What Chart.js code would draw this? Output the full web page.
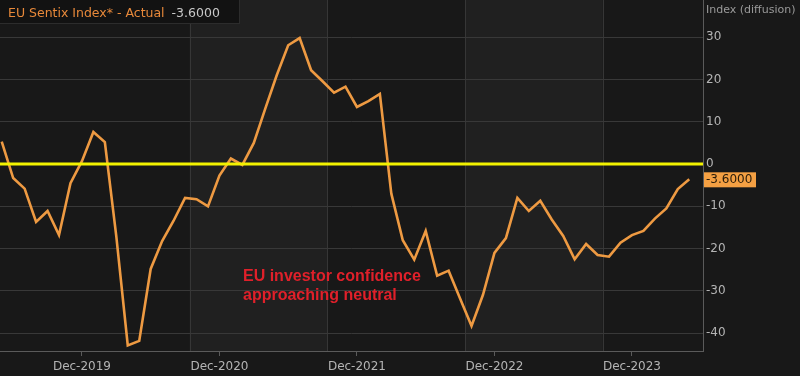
<!DOCTYPE html>
<html>
<head>
<meta charset="utf-8">
<script src="https://cdn.jsdelivr.net/npm/chart.js@4"></script>
<style>
  html, body { margin: 0; padding: 0; background: #181818; }
  #wrap { width: 800px; height: 376px; position: relative; }
</style>
</head>
<body>
<div id="wrap"><canvas id="chart"></canvas></div>
<script>
// monthly EU Sentix readings, May-2019 .. May-2024
const months = ['May-2019','Jun-2019','Jul-2019','Aug-2019','Sep-2019','Oct-2019','Nov-2019','Dec-2019',
  'Jan-2020','Feb-2020','Mar-2020','Apr-2020','May-2020','Jun-2020','Jul-2020','Aug-2020','Sep-2020','Oct-2020','Nov-2020','Dec-2020',
  'Jan-2021','Feb-2021','Mar-2021','Apr-2021','May-2021','Jun-2021','Jul-2021','Aug-2021','Sep-2021','Oct-2021','Nov-2021','Dec-2021',
  'Jan-2022','Feb-2022','Mar-2022','Apr-2022','May-2022','Jun-2022','Jul-2022','Aug-2022','Sep-2022','Oct-2022','Nov-2022','Dec-2022',
  'Jan-2023','Feb-2023','Mar-2023','Apr-2023','May-2023','Jun-2023','Jul-2023','Aug-2023','Sep-2023','Oct-2023','Nov-2023','Dec-2023',
  'Jan-2024','Feb-2024','Mar-2024','Apr-2024','May-2024']
const sentix = [5.3, -3.3, -5.8, -13.7, -11.1, -16.8, -4.5, 0.7,
  7.6, 5.2, -17.1, -42.9, -41.8, -24.8, -18.2, -13.4, -8.0, -8.3, -10.0, -2.7,
  1.3, -0.2, 5.0, 13.1, 21.0, 28.1, 29.8, 22.2, 19.6, 16.9, 18.3, 13.5,
  14.9, 16.6, -7.0, -18.0, -22.6, -15.8, -26.4, -25.2, -31.8, -38.3, -30.9, -21.0,
  -17.5, -8.0, -11.1, -8.7, -13.1, -17.0, -22.5, -18.9, -21.5, -21.9, -18.6, -16.8,
  -15.8, -12.9, -10.5, -5.9, -3.6]
const tickLabels = ['Dec-2019', 'Dec-2020', 'Dec-2021', 'Dec-2022', 'Dec-2023']
const yTicks = [-40, -30, -20, -10, 0, 10, 20, 30]
// shaded year bands (month index, start/end)
const bandEdges = [16.4, 28.4, 40.45, 52.45]

const lastValue = sentix[sentix.length - 1]
const FONT = '"DejaVu Sans", sans-serif'

const points = sentix.map((v, i) => ({ x: i, y: v }))
const tickIdx = tickLabels.map(l => months.indexOf(l))

const decor = {
  id: 'decor',
  beforeDraw(chart) {
    const { ctx, chartArea: a, scales } = chart
    ctx.save()
    ctx.fillStyle = '#181818'
    ctx.fillRect(0, 0, chart.width, chart.height)
    ctx.fillStyle = '#202020'
    for (let i = 0; i + 1 < bandEdges.length; i += 2) {
      const x0 = scales.x.getPixelForValue(bandEdges[i])
      const x1 = scales.x.getPixelForValue(bandEdges[i + 1])
      ctx.fillRect(x0, a.top, x1 - x0, a.bottom - a.top)
    }
    ctx.strokeStyle = '#363636'
    ctx.lineWidth = 1
    bandEdges.forEach(b => {
      const x = Math.round(scales.x.getPixelForValue(b)) + 0.5
      ctx.beginPath()
      ctx.moveTo(x, a.top)
      ctx.lineTo(x, a.bottom)
      ctx.stroke()
    })
    ctx.restore()
  },
  afterDatasetsDraw(chart) {
    const { ctx, chartArea: a, scales } = chart
    const y0 = scales.y.getPixelForValue(0)
    ctx.save()
    ctx.strokeStyle = '#f2f200'
    ctx.lineWidth = 3
    ctx.beginPath()
    ctx.moveTo(a.left, y0)
    ctx.lineTo(a.right, y0)
    ctx.stroke()
    ctx.restore()
  },
  afterDraw(chart) {
    const { ctx, chartArea: a, scales } = chart
    ctx.save()
    // value badge on the axis
    const yv = scales.y.getPixelForValue(lastValue)
    ctx.fillStyle = '#f4a043'
    ctx.fillRect(a.right + 1, yv - 7, 52, 15)
    ctx.fillStyle = '#2a1c0a'
    ctx.font = '12px ' + FONT
    ctx.textBaseline = 'middle'
    ctx.textAlign = 'left'
    ctx.fillText(lastValue.toFixed(4), a.right + 3, yv + 0.5)

    // axis title
    ctx.fillStyle = '#9a9a9a'
    ctx.font = '11px ' + FONT
    ctx.textBaseline = 'alphabetic'
    ctx.fillText('Index (diffusion)', a.right + 3, 13)

    // legend box
    ctx.fillStyle = '#121212'
    ctx.fillRect(0, 0, 240, 24)
    ctx.strokeStyle = '#2c2c2c'
    ctx.strokeRect(-0.5, -0.5, 240, 24)
    ctx.font = '12.5px ' + FONT
    ctx.fillStyle = '#e8893a'
    const lbl = 'EU Sentix Index* - Actual'
    ctx.fillText(lbl, 8, 17)
    ctx.fillStyle = '#c8c8c8'
    ctx.fillText(lastValue.toFixed(4), 8 + ctx.measureText(lbl).width + 7, 17)

    // note
    ctx.fillStyle = '#e0202a'
    ctx.font = 'bold 16px "Liberation Sans", Arial, sans-serif'
    ctx.fillText('EU investor confidence', 243, 281)
    ctx.fillText('approaching neutral', 243, 299.5)
    ctx.restore()
  }
}

new Chart(document.querySelector('#chart'), {
  type: 'line',
  data: {
    datasets: [{
      data: points,
      borderColor: '#ee9a42',
      borderWidth: 2.6,
      pointRadius: 0,
      tension: 0,
      fill: false
    }]
  },
  options: {
    responsive: true,
    maintainAspectRatio: false,
    animation: false,
    devicePixelRatio: 1,
    layout: { padding: 0 },
    plugins: { legend: { display: false }, tooltip: { enabled: false } },
    scales: {
      x: {
        type: 'linear',
        position: 'bottom',
        min: -0.15,
        max: 61.2,
        afterBuildTicks: s => { s.ticks = tickIdx.map(v => ({ value: v })) },
        afterFit: s => { s.height = 25; s.paddingLeft = 0; s.paddingRight = 0 },
        ticks: {
          autoSkip: false,
          maxRotation: 0,
          padding: 4,
          color: '#b4b4b4',
          font: { family: FONT, size: 12 },
          callback: (v, i) => tickLabels[i]
        },
        grid: { drawOnChartArea: false, drawTicks: true, tickLength: 5, color: '#5a5a5a' },
        border: { display: true, color: '#5a5a5a' }
      },
      y: {
        position: 'right',
        min: -44.2,
        max: 38.8,
        afterBuildTicks: s => { s.ticks = yTicks.map(v => ({ value: v })) },
        afterFit: s => { s.width = 97; s.paddingTop = 0; s.paddingBottom = 0 },
        ticks: {
          padding: 3,
          color: '#b4b4b4',
          font: { family: FONT, size: 12 },
          callback: v => v
        },
        grid: { color: '#383838', drawTicks: false },
        border: { display: true, color: '#5a5a5a' }
      }
    }
  },
  plugins: [decor]
})
</script>
</body>
</html>
